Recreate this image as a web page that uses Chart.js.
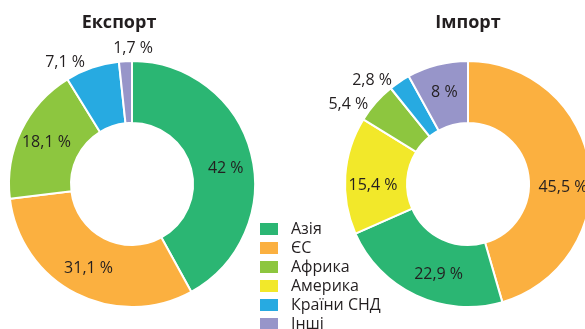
<!DOCTYPE html>
<html>
<head>
<meta charset="utf-8">
<script src="https://cdn.jsdelivr.net/npm/chart.js@4.4.1/dist/chart.umd.min.js"></script>
<style>
  html, body { margin: 0; padding: 0; background: #fff; overflow: hidden; }
  body { width: 585px; height: 329px; position: relative; font-family: "Open Sans", sans-serif; }
  canvas { position: absolute; top: 0; }
  #exportChart { left: 0; }
  #importChart { left: 300px; }
  #legend { position: absolute; left: 260px; top: 219px; }
  #legend div { height: 19px; line-height: 19px; font-size: 16px; color: #231f20; white-space: nowrap; }
  #legend span { display: inline-block; width: 18px; height: 12px; margin-right: 13px; vertical-align: -1px; }
</style>
</head>
<body>
<canvas id="exportChart" width="290" height="329"></canvas>
<canvas id="importChart" width="300" height="329"></canvas>
<div id="legend"></div>
<script>
// regions and their colours (legend order)
var regions = ['Азія', 'ЄС', 'Африка', 'Америка', 'Країни СНД', 'Інші'];
var regionColors = ['#2bb673', '#fbb040', '#8dc63f', '#f2e82a', '#27aae1', '#9795c9'];

// export shares, %, clockwise from the top
var exportRegions = ['Азія', 'ЄС', 'Африка', 'Країни СНД', 'Інші'];
var exportValues = [42, 31.1, 18.1, 7.1, 1.7];

// import shares, %, clockwise from the top
var importRegions = ['ЄС', 'Азія', 'Америка', 'Африка', 'Країни СНД', 'Інші'];
var importValues = [45.5, 22.9, 15.4, 5.4, 2.8, 8];

function colorOf(name) {
    return regionColors[regions.indexOf(name)];
}

function fmt(v) {
    return String(v).replace('.', ',') + ' %';
}

// percent labels: big slices inside the ring, small ones outside
// nudge = per-slice turn of the label away from the slice middle, degrees
var sliceLabels = {
    id: 'sliceLabels',
    afterDatasetsDraw: function(chart, args, opts) {
        var ctx = chart.ctx;
        var meta = chart.getDatasetMeta(0);
        var values = chart.data.datasets[0].data;
        ctx.save();
        ctx.font = '16px "Open Sans", sans-serif';
        ctx.fillStyle = '#231f20';
        ctx.textAlign = 'center';
        ctx.textBaseline = 'middle';
        meta.data.forEach(function(arc, i) {
            var p = arc.getProps(['x', 'y', 'startAngle', 'endAngle', 'innerRadius', 'outerRadius'], true);
            var mid = (p.startAngle + p.endAngle) / 2 + (opts.nudge[i] || 0) * Math.PI / 180;
            var c = Math.cos(mid), s = Math.sin(mid);
            var text = fmt(values[i]);
            if (values[i] >= 8) {
                var r = (p.innerRadius + p.outerRadius) / 2 + 3;
                ctx.fillText(text, p.x + c * r, p.y + s * r);
            } else {
                // keep the text box just clear of the ring
                var w = ctx.measureText(text).width / 2;
                var r0 = p.outerRadius + 5;
                ctx.fillText(text, p.x + c * (r0 + w), p.y + s * (r0 + 8));
            }
        });
        // chart title
        ctx.font = 'bold 18px "Open Sans", sans-serif';
        ctx.fillText(opts.text, meta.data[0].x + opts.shift, 23);
        ctx.restore();
    }
};

function makeDoughnut(id, labels, values, title, padding, titleShift, nudge) {
    return new Chart(document.getElementById(id), {
        type: 'doughnut',
        data: {
            labels: labels,
            datasets: [{
                data: values,
                backgroundColor: labels.map(colorOf),
                borderColor: '#ffffff',
                borderWidth: 2
            }]
        },
        options: {
            responsive: false,
            animation: false,
            cutout: 61,
            layout: { padding: padding },
            plugins: {
                legend: { display: false },
                tooltip: { enabled: false },
                sliceLabels: { text: title, shift: titleShift, nudge: nudge }
            }
        },
        plugins: [sliceLabels]
    });
}

var exportChart = makeDoughnut('exportChart', exportRegions, exportValues, 'Експорт',
    { left: 8, top: 60, right: 34, bottom: 21 }, -13, [5, 0, 0, -8, 3.5]);
var importChart = makeDoughnut('importChart', importRegions, importValues, 'Імпорт',
    { left: 44, top: 60, right: 8, bottom: 21 }, 0, [10, -7, -5, -5.4, -6.6, 0]);

// legend
var legend = document.getElementById('legend');
regions.forEach(function(name, i) {
    var row = document.createElement('div');
    var box = document.createElement('span');
    box.style.background = regionColors[i];
    row.appendChild(box);
    row.appendChild(document.createTextNode(name));
    legend.appendChild(row);
});
</script>
</body>
</html>
